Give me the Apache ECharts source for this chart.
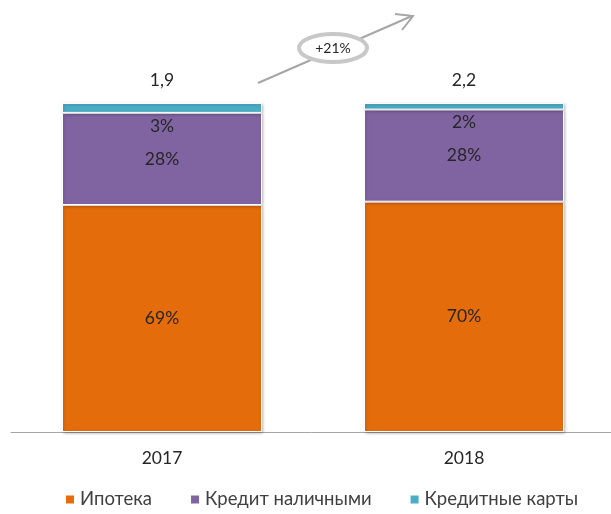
<!DOCTYPE html>
<html><head><meta charset="utf-8">
<script src="https://cdn.jsdelivr.net/npm/echarts@6/dist/echarts.min.js"></script>
<style>html,body{margin:0;padding:0;background:#fff}#c{width:611px;height:514px}</style>
</head><body><div id="c"></div>
<script>
const categories = ['2017', '2018'];
const mortgage = [69, 70];
const cashLoans = [28, 28];
const creditCards = [3, 2];
const totals = ['1,9', '2,2'];
const growthLabel = '+21%';
const seriesNames = ['Ипотека', 'Кредит наличными', 'Кредитные карты'];

const FONT = 'Lato';
const TXT = '#262626';
const FS = 17.5;
const itemStyleBase = { borderColor: '#fff', borderWidth: 1, shadowBlur: 3, shadowColor: 'rgba(0,0,0,0.25)', shadowOffsetX: 1, shadowOffsetY: 1 };

const chart = echarts.init(document.getElementById('c'));
chart.setOption({
  animation: false,
  textStyle: { fontFamily: FONT },
  grid: { left: 11, width: 604, top: 103, bottom: 82, outerBoundsMode: 'none', containLabel: false },
  legend: {
    data: seriesNames, bottom: 0, left: 59, itemWidth: 10, itemHeight: 10, itemGap: 37,
    icon: 'rect', textStyle: { fontFamily: FONT, fontSize: 18.5, color: '#404040' }
  },
  xAxis: {
    type: 'category', data: categories,
    axisLine: { lineStyle: { color: '#a6a6a6' } },
    axisTick: { length: 7, lineStyle: { color: '#a6a6a6' } },
    axisLabel: { fontSize: FS, color: TXT, margin: 17, fontFamily: FONT }
  },
  yAxis: { type: 'value', min: 0, max: 100, show: false },
  series: [
    { name: seriesNames[0], type: 'bar', stack: 's', barWidth: 200, data: mortgage,
      itemStyle: Object.assign({ color: '#E46C0A' }, itemStyleBase),
      label: { show: true, position: 'inside', formatter: p => p.value + '%', fontSize: FS, color: TXT, fontFamily: FONT } },
    { name: seriesNames[1], type: 'bar', stack: 's', data: cashLoans,
      itemStyle: Object.assign({ color: '#8064A2' }, itemStyleBase),
      label: { show: true, position: 'inside', formatter: p => p.value + '%', fontSize: FS, color: TXT, fontFamily: FONT } },
    { name: seriesNames[2], type: 'bar', stack: 's', data: creditCards,
      itemStyle: Object.assign({ color: '#4BACC6' }, itemStyleBase),
      label: { show: true, position: 'bottom', distance: 4, formatter: p => p.value + '%', fontSize: FS, color: TXT, fontFamily: FONT } },
    { name: 'total', type: 'bar', stack: 's', data: categories.map(() => 0), silent: true,
      itemStyle: { color: 'transparent' },
      label: { show: true, position: 'top', distance: 14, formatter: p => totals[p.dataIndex], fontSize: FS, color: TXT, fontFamily: FONT } }
  ],
  graphic: [
    { type: 'line', shape: { x1: 258, y1: 83, x2: 412, y2: 16 }, style: { stroke: '#a6a6a6', lineWidth: 2 } },
    { type: 'polyline', shape: { points: [[395, 14], [413, 16], [402, 30]] }, style: { stroke: '#a6a6a6', lineWidth: 2, fill: null } },
    { type: 'ellipse', shape: { cx: 333, cy: 48, rx: 34, ry: 14 }, style: { fill: '#fff', stroke: '#c8c8c8', lineWidth: 4 } },
    { type: 'text', x: 333, y: 48, style: { text: growthLabel, fontSize: 14, fill: TXT, fontFamily: FONT, align: 'center', verticalAlign: 'middle' } }
  ]
});
</script></body></html>
